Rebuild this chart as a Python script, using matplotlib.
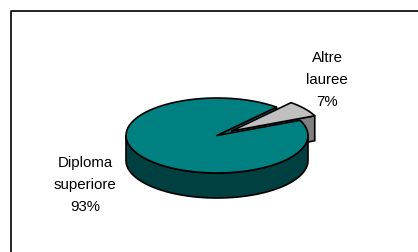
import numpy as np
import matplotlib
matplotlib.use("Agg")
from matplotlib import pyplot as plt
from matplotlib import patches

labels = ["Altre\nlauree", "Diploma\nsuperiore"]
values = [7, 93]
top_colors = ["#C0C0C0", "#008080"]
side_colors = ["#808080", "#004040"]
explode = [0.2, 0.0]
start_angle = 24.0

# pie geometry, in pixels
cx, cy = 217.0, 136.5
rx, ry = 91.0, 37.5
depth = 25.0


def pt(t, off=(0.0, 0.0), dz=0.0):
    r = np.radians(t)
    return (cx + off[0] + rx * np.cos(r), cy + off[1] - ry * np.sin(r) + dz)


def arc(t0, t1, off=(0.0, 0.0), dz=0.0, n=80):
    ts = np.linspace(t0, t1, n)
    return [pt(t, off, dz) for t in ts]


def top_poly(t0, t1, off):
    c = (cx + off[0], cy + off[1])
    return [c] + arc(t0, t1, off) + [c]


def radial_poly(t, off):
    c = (cx + off[0], cy + off[1])
    p = pt(t, off)
    return [c, p, (p[0], p[1] + depth), (c[0], c[1] + depth)]


def side_poly(t0, t1, off):
    a = arc(t0, t1, off)
    b = arc(t1, t0, off, depth)
    return a + b


fig = plt.figure(figsize=(4.18, 2.53), dpi=100)
ax = fig.add_axes([0, 0, 1, 1])
ax.set_xlim(0, 418)
ax.set_ylim(253, 0)
ax.axis("off")

# frame
ax.plot([11, 11, 418], [253, 12, 12], color="black", lw=1.2, solid_capstyle="butt")

total = float(sum(values))
angles = []
a = start_angle
for v in values:
    angles.append((a, a + 360.0 * v / total))
    a += 360.0 * v / total

offs = []
for (t0, t1), e in zip(angles, explode):
    mid = np.radians((t0 + t1) / 2)
    offs.append((e * rx * np.cos(mid), -e * ry * np.sin(mid)))

ec = dict(edgecolor="black", lw=1.2, joinstyle="round")
(g0, g1), (b0, b1) = angles

# teal cut face at the gap
ax.add_patch(patches.Polygon(radial_poly(b0, offs[1]), facecolor=top_colors[1], **ec))
# grey slice
ax.add_patch(patches.Polygon(radial_poly(g0, offs[0]), facecolor=side_colors[0], **ec))
ax.add_patch(patches.Polygon(top_poly(g0, g1, offs[0]), facecolor=top_colors[0], **ec))
# teal slice: front wall then top
ax.add_patch(patches.Polygon(side_poly(180, 360, offs[1]), facecolor=side_colors[1], **ec))
ax.add_patch(patches.Polygon(top_poly(b0, b1, offs[1]), facecolor=top_colors[1], **ec))

txt = dict(ha="center", va="center", fontsize=10.8, linespacing=1.75,
           family=["Liberation Sans", "DejaVu Sans"])
ax.text(327, 80, "%s\n%d%%" % (labels[0], values[0]), **txt)
ax.text(85, 185, "%s\n%d%%" % (labels[1], values[1]), **txt)

fig.savefig("out.png", dpi=100)
